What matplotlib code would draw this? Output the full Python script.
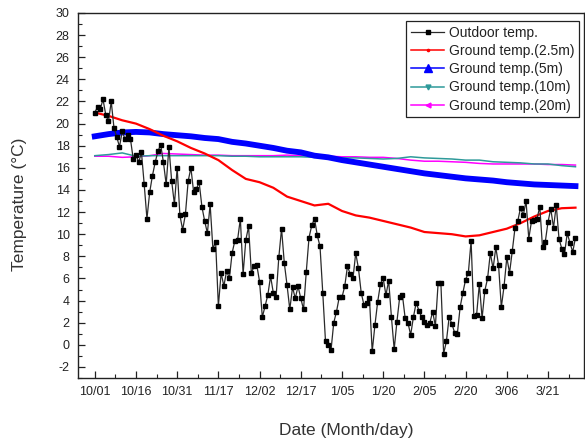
import numpy as np
import matplotlib
matplotlib.use('Agg')
import matplotlib.pyplot as plt
from matplotlib.lines import Line2D
from matplotlib.ticker import MultipleLocator

plt.rcParams['font.family'] = ['Liberation Sans', 'DejaVu Sans']
plt.rcParams['axes.unicode_minus'] = False

# x axis is sample (day) index, labelled every 15 samples
tick_labels = ['10/01', '10/16', '10/31', '11/17', '12/02', '12/17',
               '1/05', '1/20', '2/05', '2/20', '3/06', '3/21']

# outdoor temperature, one value per sample
outdoor = [21.0, 21.5, 21.3, 22.2, 20.8, 20.2, 22.0, 19.6, 18.8, 17.9,
           19.3, 18.6, 19.0, 18.6, 16.8, 17.2, 16.5, 17.4, 14.5, 11.4,
           13.8, 15.3, 16.5, 17.5, 18.1, 16.5, 14.5, 17.9, 14.8, 12.7,
           16.0, 11.7, 10.4, 11.8, 14.8, 16.0, 13.8, 14.1, 14.7, 12.5,
           11.2, 10.1, 12.7, 8.7, 9.3, 3.5, 6.5, 5.3, 6.7, 6.0,
           8.3, 9.4, 9.5, 11.4, 6.4, 9.5, 10.7, 6.5, 7.1, 7.2,
           5.7, 2.5, 3.5, 4.5, 6.2, 4.7, 4.3, 7.9, 10.5, 7.4,
           5.4, 3.2, 5.2, 4.2, 5.3, 4.2, 3.2, 6.6, 9.7, 10.8,
           11.4, 9.9, 8.9, 4.7, 0.3, 0.0, -0.5, 2.0, 3.0, 4.3,
           4.3, 5.3, 7.1, 6.4, 6.0, 8.3, 6.9, 4.7, 3.6, 3.8,
           4.2, -0.6, 1.8, 3.9, 5.5, 6.0, 4.5, 5.8, 2.5, -0.4,
           2.1, 4.3, 4.5, 2.4, 2.0, 0.9, 2.5, 3.8, 3.1, 2.5,
           2.1, 1.8, 2.0, 3.0, 1.7, 5.6, 5.6, -0.8, 0.3, 2.5,
           1.9, 1.1, 1.0, 3.4, 4.7, 5.9, 6.5, 9.4, 2.6, 2.7,
           5.5, 2.4, 4.9, 6.0, 8.3, 6.9, 8.8, 7.2, 3.4, 5.3,
           7.9, 6.5, 8.5, 10.6, 11.2, 12.4, 11.7, 13.0, 9.6, 11.2,
           11.3, 11.4, 12.5, 8.8, 9.3, 11.1, 12.3, 10.6, 12.6, 9.6,
           8.7, 8.2, 10.1, 9.2, 8.4, 9.7]

# ground temperatures read every 5 samples
ground_day = list(range(0, 176, 5))
ground_25m = [21.0, 20.7, 20.3, 20.0, 19.5, 18.9, 18.4, 17.8, 17.3, 16.7,
              15.8, 15.0, 14.7, 14.2, 13.4, 13.0, 12.6, 12.75, 12.1, 11.7,
              11.5, 11.2, 10.9, 10.6, 10.2, 10.1, 10.0, 9.8, 9.9, 10.2,
              10.5, 11.0, 11.6, 12.1, 12.35, 12.4]
ground_5m = [18.85, 19.05, 19.2, 19.25, 19.2, 19.05, 18.95, 18.85, 18.7, 18.6,
             18.35, 18.2, 18.0, 17.8, 17.55, 17.4, 17.1, 16.95, 16.7, 16.5,
             16.3, 16.1, 15.9, 15.7, 15.5, 15.35, 15.2, 15.05, 14.95, 14.85,
             14.7, 14.6, 14.5, 14.45, 14.4, 14.35]
ground_10m = [17.1, 17.2, 17.35, 17.05, 17.1, 17.1, 17.1, 17.1, 17.1, 17.1,
              17.05, 17.05, 17.0, 17.0, 17.0, 17.0, 16.95, 16.95, 16.9, 16.9,
              16.85, 16.8, 16.85, 17.0, 16.9, 16.85, 16.8, 16.7, 16.7, 16.55,
              16.5, 16.45, 16.35, 16.35, 16.2, 16.1]
ground_20m = [17.05, 17.05, 16.95, 17.0, 17.1, 17.3, 17.25, 17.2, 17.15, 17.15,
              17.1, 17.1, 17.1, 17.1, 17.15, 17.1, 17.1, 17.05, 17.0, 17.0,
              16.95, 16.95, 16.85, 16.7, 16.6, 16.6, 16.55, 16.5, 16.4, 16.35,
              16.35, 16.35, 16.35, 16.3, 16.3, 16.25]

c_out = '#000000'
c_25 = '#FF0000'
c_5 = '#0000FF'
c_10 = '#2E9A9A'
c_20 = '#FF00FF'

fig = plt.figure(figsize=(5.85, 4.44), dpi=100)
ax = fig.add_axes([78/585, 66/444, 506/585, 365/444])

days = np.arange(len(outdoor))
ax.plot(ground_day, ground_20m, color=c_20, lw=1.1, zorder=2)
ax.plot(ground_day, ground_10m, color=c_10, lw=1.1, zorder=2)
ax.plot(ground_day, ground_5m, color=c_5, lw=4.2, zorder=3)
ax.plot(ground_day, ground_25m, color=c_25, lw=1.6, zorder=3)
ax.plot(days, outdoor, color='#2a2a2a', lw=0.9, marker='s', ms=3.0,
        mfc=c_out, mec=c_out, zorder=4)

ax.set_xlim(-6.1, 178.1)
ax.set_ylim(-3, 30)
ax.set_xticks(np.arange(0, 15 * len(tick_labels), 15))
ax.set_xticklabels(tick_labels)
ax.xaxis.set_minor_locator(MultipleLocator(7.5))
ax.yaxis.set_major_locator(MultipleLocator(2))
ax.yaxis.set_minor_locator(MultipleLocator(1))
ax.set_yticks(np.arange(-2, 31, 2))
ax.tick_params(which='both', direction='in', colors='#222222', labelsize=9)
ax.tick_params(which='major', length=5, width=0.9, pad=6)
ax.tick_params(which='minor', length=3, width=0.8)
for s in ax.spines.values():
    s.set_linewidth(1.0)
    s.set_color('#222222')

ax.set_ylabel('Temperature (°C)', fontsize=12.5, color='#333333')
ax.yaxis.set_label_coords(-0.100, 0.475)
ax.set_xlabel('Date (Month/day)', fontsize=12.5, color='#333333')
ax.xaxis.set_label_coords(0.53, -0.123)

handles = [
    Line2D([], [], color='#2a2a2a', lw=0.9, marker='s', ms=3, mfc=c_out, mec=c_out),
    Line2D([], [], color=c_25, lw=1.1, marker='o', ms=1.6),
    Line2D([], [], color=c_5, lw=1.1, marker='^', ms=5.5),
    Line2D([], [], color=c_10, lw=1.1, marker='v', ms=3.5),
    Line2D([], [], color=c_20, lw=1.1, marker='<', ms=3.5),
]
labels = ['Outdoor temp.', 'Ground temp.(2.5m)', 'Ground temp.(5m)',
          'Ground temp.(10m)', 'Ground temp.(20m)']
leg = ax.legend(handles, labels, loc='upper right', bbox_to_anchor=(0.990, 0.978),
                borderaxespad=0, fontsize=10, handlelength=2.4, handletextpad=0.3,
                labelspacing=0.3, borderpad=0.35, fancybox=False, framealpha=1,
                edgecolor='#222222')
leg.get_frame().set_linewidth(0.9)
for t in leg.get_texts():
    t.set_color('#222222')

fig.savefig('out.png', dpi=100)
